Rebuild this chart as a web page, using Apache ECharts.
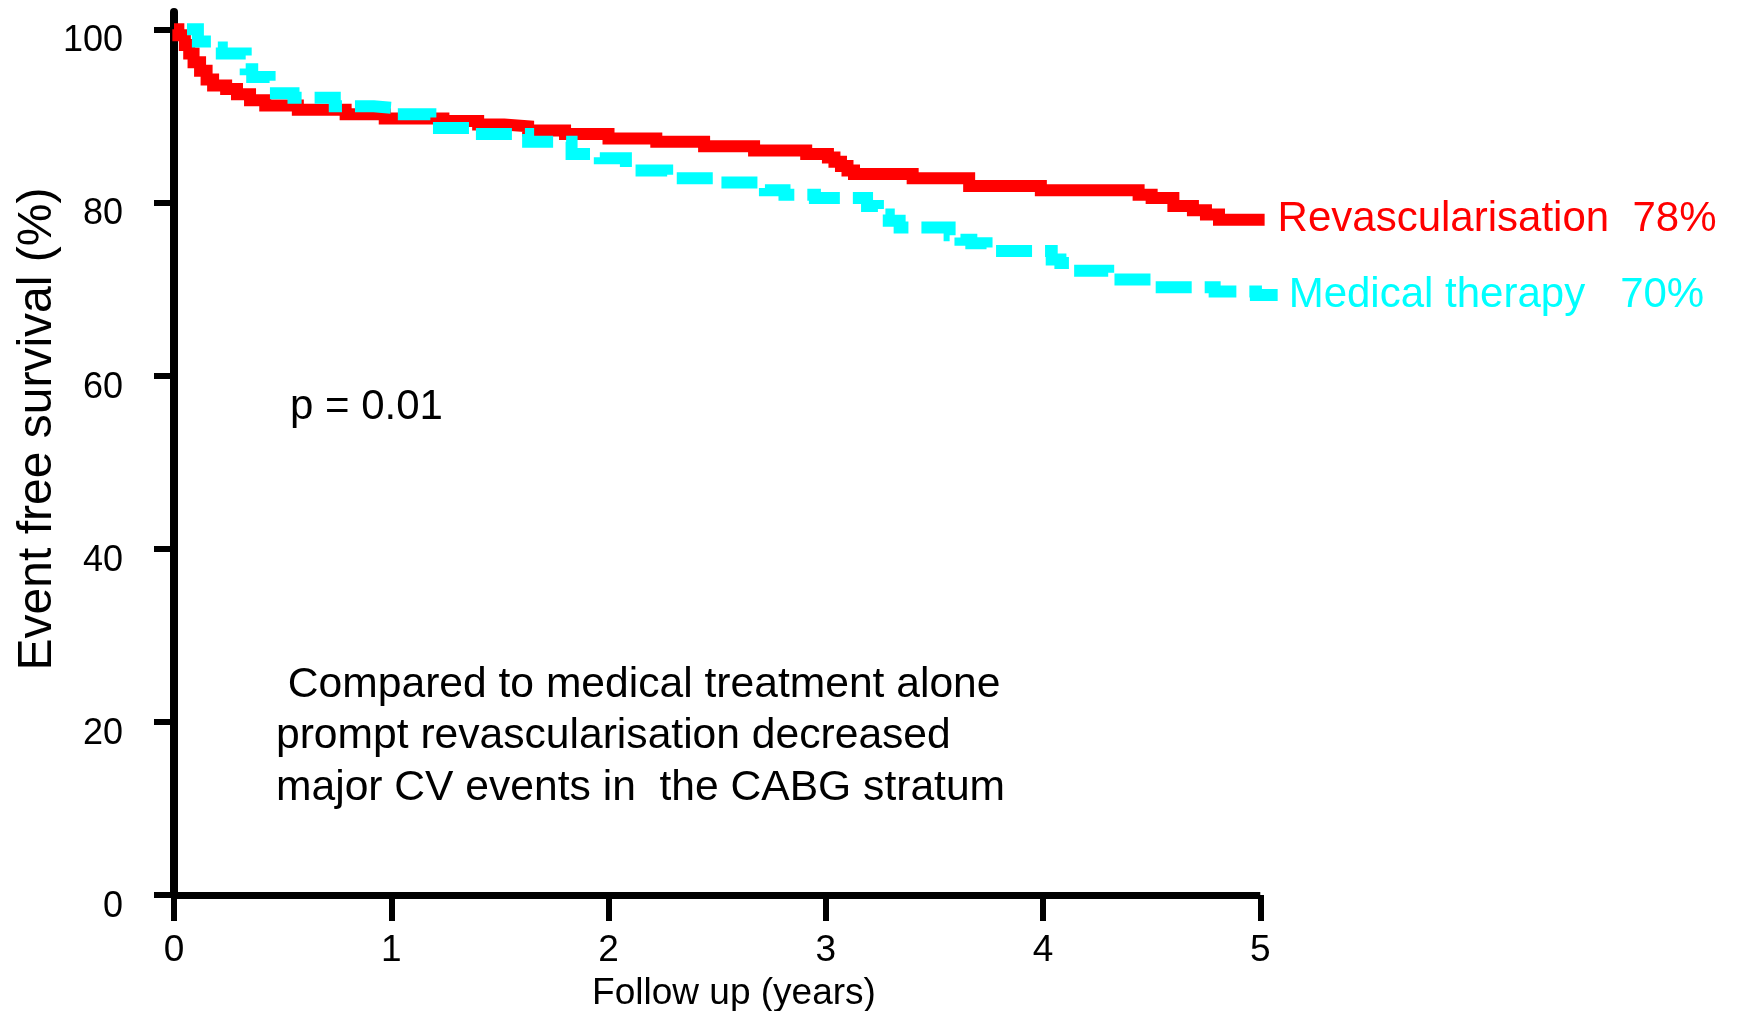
<!DOCTYPE html>
<html>
<head>
<meta charset="utf-8">
<title>Event free survival</title>
<script src="https://cdn.jsdelivr.net/npm/echarts@6/dist/echarts.min.js"></script>
<style>
html, body { margin:0; padding:0; background:#fff; }
#main { width:1739px; height:1011px; }
</style>
</head>
<body>
<div id="main"></div>
<script>
// follow up (years) / event free survival (%)
var revascT = [0, 0.02, 0.05, 0.07, 0.09, 0.12, 0.15, 0.18, 0.24, 0.29,
               0.35, 0.42, 0.57, 0.79, 0.97, 1.24, 1.40, 1.52, 1.63, 1.80,
               2.00, 2.22, 2.44, 2.67, 2.91, 3.01, 3.04, 3.07, 3.10, 3.13,
               3.40, 3.66, 3.99, 4.44, 4.50, 4.60, 4.69, 4.75, 4.81, 5.02];
var revascS = [100, 99.3, 98.2, 97.2, 96.2, 95.2, 94.2, 93.5, 93.1, 92.5,
               91.8, 91.2, 90.7, 90.2, 89.7, 89.4, 89.0, 88.8, 88.3, 87.9,
               87.4, 87.0, 86.5, 86.0, 85.6, 85.2, 84.7, 84.2, 83.7, 83.3,
               82.8, 81.9, 81.4, 80.9, 80.5, 79.6, 79.1, 78.6, 78.0, 78.0];
var medT = [0, 0.11, 0.18, 0.22, 0.33, 0.36, 0.44, 0.55, 0.74, 0.92,
            1.02, 1.18, 1.36, 1.63, 1.83, 1.96, 2.08, 2.27, 2.50, 2.72,
            2.81, 2.95, 3.19, 3.24, 3.29, 3.34, 3.57, 3.62, 3.67, 3.74,
            4.04, 4.08, 4.13, 4.30, 4.50, 4.79, 4.98, 5.08];
var medS = [100, 98.6, 97.9, 97.2, 95.4, 94.5, 92.6, 92.1, 91.1, 90.9,
            90.2, 88.6, 87.9, 87.0, 85.6, 85.1, 83.7, 82.8, 82.3, 81.4,
            80.9, 80.5, 79.6, 78.6, 77.9, 77.1, 76.2, 75.7, 75.3, 74.4,
            73.4, 73.0, 72.1, 71.1, 70.2, 69.7, 69.3, 69.3];

var seriesNames = ['Revascularisation', 'Medical therapy'];
var endPct = ['78%', '70%'];
var xTicks = [0, 1, 2, 3, 4, 5];
var yTicks = [0, 20, 40, 60, 80, 100];
var pText = 'p = 0.01';
var noteLines = [' Compared to medical treatment alone',
                 'prompt revascularisation decreased',
                 'major CV events in  the CABG stratum'];

function pairs(t, s) {
	var out = [];
	for (var i = 0; i < t.length; i++) {
		out.push([t[i], s[i]]);
	}
	return out;
}

var chart = echarts.init(document.getElementById('main'));
chart.setOption({
	animation: false,
	backgroundColor: '#fff',
	textStyle: { fontFamily: 'Liberation Sans' },
	// the x extent runs a little past 5 so the medical therapy curve is not cut
	grid: { left: 174, right: 457, top: 12, bottom: 116, containLabel: false, outerBoundsMode: 'none' },
	xAxis: {
		type: 'value',
		min: 0,
		max: 5.1,
		interval: 1,
		name: 'Follow up (years)',
		nameLocation: 'middle',
		nameGap: 80,
		nameMoveOverlap: false,
		nameTextStyle: { color: '#000', fontSize: 37, padding: [0, 0, 0, 12] },
		axisLine: { show: false },
		axisTick: { show: true, length: 26, customValues: xTicks, lineStyle: { color: '#000', width: 6 } },
		axisLabel: { color: '#000', fontSize: 37, margin: 37, customValues: xTicks },
		splitLine: { show: false }
	},
	yAxis: {
		type: 'value',
		min: 0,
		max: 102,
		interval: 20,
		name: 'Event free survival (%)',
		nameLocation: 'middle',
		nameGap: 112,
		nameMoveOverlap: false,
		nameTextStyle: { color: '#000', fontSize: 48, padding: [0, 0, 0, 49] },
		axisLine: { show: true, lineStyle: { color: '#000', width: 8 } },
		axisTick: { show: true, length: 20, customValues: yTicks, lineStyle: { color: '#000', width: 6 } },
		axisLabel: { color: '#000', fontSize: 36, margin: 51,
			verticalAlign: 'top', lineHeight: 24, customValues: yTicks },
		splitLine: { show: false }
	},
	series: [
		{
			name: seriesNames[0],
			type: 'line',
			step: 'end',
			clip: false,
			symbol: 'none',
			z: 2,
			data: pairs(revascT, revascS),
			lineStyle: { color: '#ff0000', width: 12, cap: 'butt', join: 'miter' },
			endLabel: {
				show: true,
				distance: 13,
				color: '#ff0000',
				fontSize: 42,
				formatter: function () { return seriesNames[0] + '  ' + endPct[0]; }
			},
			// x axis baseline, 0 to 5 years
			markLine: {
				silent: true,
				symbol: ['none', 'none'],
				label: { show: false },
				lineStyle: { color: '#000', width: 7, type: 'solid' },
				data: [[{ coord: [xTicks[0], 0] }, { coord: [xTicks[xTicks.length - 1], 0] }]]
			}
		},
		{
			name: seriesNames[1],
			type: 'line',
			step: 'end',
			clip: false,
			symbol: 'none',
			z: 3,
			data: pairs(medT, medS),
			lineStyle: { color: '#00ffff', width: 12, type: [36, 13], dashOffset: 36, cap: 'butt', join: 'miter' },
			endLabel: {
				show: true,
				distance: 11,
				color: '#00ffff',
				fontSize: 42,
				formatter: function () { return seriesNames[1] + '   ' + endPct[1]; }
			}
		}
	],
	graphic: [
		{
			type: 'text',
			left: 290,
			top: 386,
			style: { text: pText, fill: '#000', fontSize: 42, fontFamily: 'Liberation Sans' }
		},
		{
			type: 'text',
			left: 276,
			top: 659,
			style: { text: noteLines.join('\n'), fill: '#000', fontSize: 42.6, lineHeight: 51.5, fontFamily: 'Liberation Sans' }
		}
	]
});
</script>
</body>
</html>
